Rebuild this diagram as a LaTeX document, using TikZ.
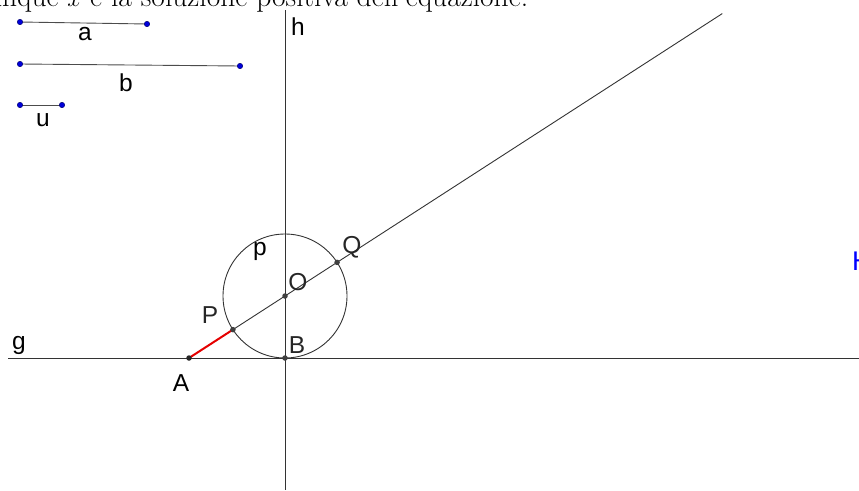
\documentclass[tikz,border=0pt]{standalone}
\usepackage{fontspec}
\newfontfamily\lblfont{Liberation Sans}
\usetikzlibrary{calc}
\tikzset{
  geoline/.style={draw=black!80, line width=0.9pt},
  redseg/.style={draw=red!90!black, line width=2pt},
  bluept/.style={circle, fill=blue!85!black, draw=blue!40!black, line width=0.4pt, inner sep=0pt, minimum size=5.5pt},
  blackpt/.style={circle, fill=black!85, inner sep=0pt, minimum size=5.5pt},
  lbl/.style={font=\lblfont\fontsize{24.5}{28}\selectfont, inner sep=0pt, text=black!85},
}
\begin{document}
\begin{tikzpicture}[x=1pt,y=-1pt]
\useasboundingbox (0,0) rectangle (859,490);
\clip (0,0) rectangle (859,490);
% header text (cut at the top edge)
\node[anchor=base west, inner sep=0pt, font=\fontsize{29.5}{33}\selectfont] (hdr) at (-34,6) {Dunque $x$ è la soluzione positiva dell'equazione.};
% end points of segments a, b, u
\coordinate (a1) at (20,22);
\coordinate (a2) at (147,24);
\coordinate (b1) at (20,64);
\coordinate (b2) at (240,66);
\coordinate (u1) at (20,105);
\coordinate (u2) at (62,105);
% main construction
\coordinate (A) at (189,358);
\coordinate (B) at (285,358);
\coordinate (O) at (285,296);
\coordinate (P) at ($(O)!62pt!(A)$);
\coordinate (Q) at ($(O)!-62pt!(A)$);
\coordinate (gL) at (8,358);
\coordinate (gR) at (859,358);
\coordinate (hT) at (285,10);
\coordinate (hB) at (285,490);
\coordinate (rT) at ($(A)!(720,10)!(O)$);
\draw[geoline] (gL) -- (gR);
\draw[geoline] (hT) -- (hB);
\draw[geoline] (O) circle[radius=62pt];
\draw[geoline] (P) -- (rT);
\draw[redseg] (A) -- (P);
\draw[geoline, draw=black!70] (a1) -- (a2);
\draw[geoline, draw=black!70] (b1) -- (b2);
\draw[geoline, draw=black!70] (u1) -- (u2);
\node[bluept] (na1) at (a1) {};
\node[bluept] (na2) at (a2) {};
\node[bluept] (nb1) at (b1) {};
\node[bluept] (nb2) at (b2) {};
\node[bluept] (nu1) at (u1) {};
\node[bluept] (nu2) at (u2) {};
\node[blackpt] (nA) at (A) {};
\node[blackpt, fill=black!75] (nB) at (B) {};
\node[blackpt, fill=black!75] (nO) at (O) {};
\node[blackpt, fill=black!75] (nP) at (P) {};
\node[blackpt, fill=black!75] (nQ) at (Q) {};
% labels
\node[lbl, text=black] (la) at (85,34) {a};
\node[lbl, text=black] (lb) at (126,83) {b};
\node[lbl, text=black] (lu) at (43,120) {u};
\node[lbl, text=black] (lg) at (19,345) {g};
\node[lbl, text=black] (lh) at (298,27) {h};
\node[lbl, text=black] (lA) at (181,383) {A};
\node[lbl] (lB) at (297,345) {B};
\node[lbl] (lO) at (298,282) {O};
\node[lbl] (lP) at (210,315) {P};
\node[lbl] (lQ) at (352,247) {Q};
\node[lbl, text=black] (lp) at (260,251) {p};
\node[lbl, text=blue, anchor=west, font=\lblfont\fontsize{27}{30}\selectfont] (lH) at (852,261) {H};
\end{tikzpicture}
\end{document}
